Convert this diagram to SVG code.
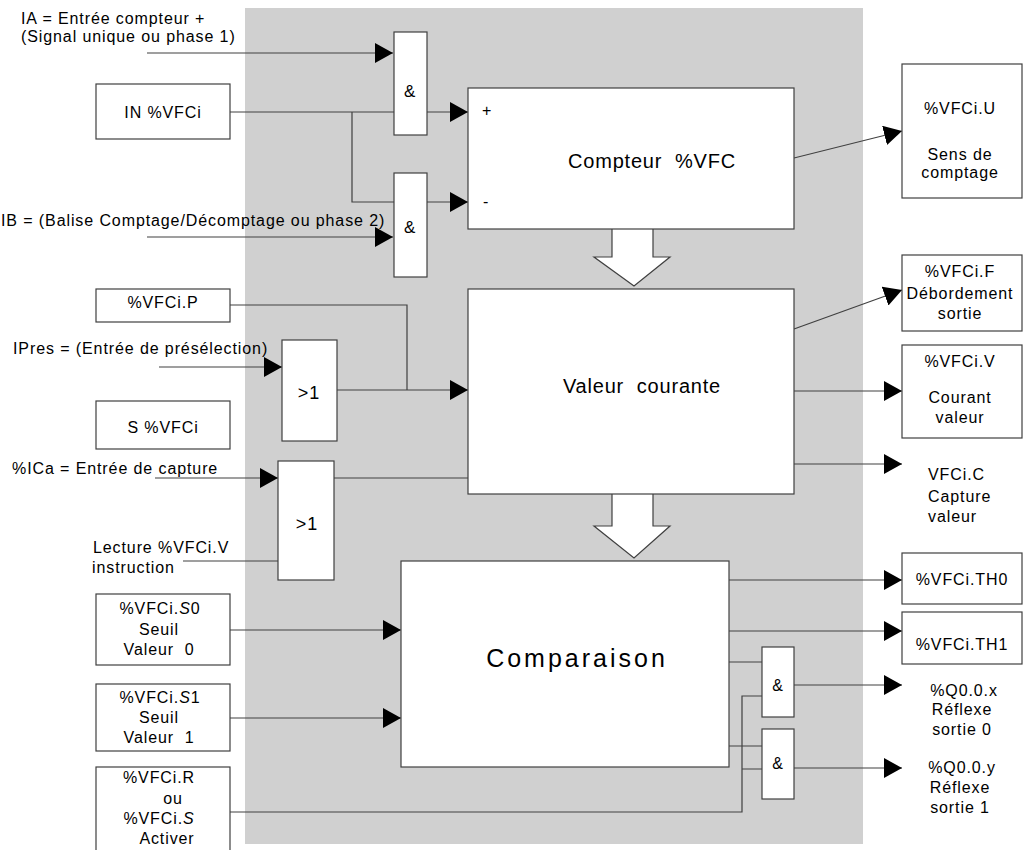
<svg xmlns="http://www.w3.org/2000/svg" width="1031" height="850" viewBox="0 0 1031 850">
<style>
text{font-family:"Liberation Sans",Arial,Helvetica,sans-serif;fill:#000;white-space:pre}
.t{font-size:16px;letter-spacing:0.9px}
.m{text-anchor:middle}
.big{font-size:20px;letter-spacing:0.8px;text-anchor:middle}
.huge{font-size:25px;letter-spacing:3px;text-anchor:middle}
.box{fill:#fff;stroke:#404040;stroke-width:1.2}
.w{fill:none;stroke:#404040;stroke-width:1.2}
.arr{marker-end:url(#ah)}
.hollow{fill:#fff;stroke:#404040;stroke-width:1.2}
</style>
<defs>
<marker id="ah" markerUnits="userSpaceOnUse" markerWidth="18" markerHeight="20" refX="18" refY="10" orient="auto" viewBox="0 0 18 20">
<path d="M0,0 L18,10 L0,20 Z" fill="#000"/>
</marker>
</defs>
<rect id="bg" x="245" y="8" width="618" height="836" fill="#d0d0d0"/>

<g id="connectors">
<path class="w arr" d="M147,53 H393"/>
<path class="w" d="M230,112 H394 M352,112 V202 H394"/>
<path class="w arr" d="M427,112 H468"/>
<path class="w arr" d="M427,202 H468"/>
<path class="w arr" d="M147,237 H393"/>
<path class="w arr" d="M794,158 L902,131"/>
<path class="w arr" d="M794,329 L902,290"/>
<path class="w arr" d="M794,391 H902"/>
<path class="w arr" d="M794,464 H902"/>
<path class="w" d="M230,305 H407 V390"/>
<path class="w arr" d="M159,367 H282"/>
<path class="w arr" d="M337,390 H468"/>
<path class="w arr" d="M155,478 H278"/>
<path class="w" d="M334,478 H468"/>
<path class="w" d="M183,561 H278"/>
<path class="w arr" d="M230,630 H401"/>
<path class="w arr" d="M230,718 H401"/>
<path class="w arr" d="M729,580 H902"/>
<path class="w arr" d="M729,631 H902"/>
<path class="w" d="M729,662 H762 M729,746 H762"/>
<path class="w" d="M230,812 H742 V696 H762 M742,769 H762"/>
<path class="w arr" d="M794,685 H902"/>
<path class="w arr" d="M794,768 H902"/>
<path class="hollow" d="M612,229 V257 H594 L634,286 L670,257 H653 V229"/>
<path class="hollow" d="M612,494 V526 H594 L634,558 L670,526 H653 V494"/>
</g>

<g id="label-ia">
<text class="t" x="21" y="24">IA = Entrée compteur +</text>
<text class="t" x="21" y="42">(Signal unique ou phase 1)</text>
</g>
<g id="label-ib">
<text class="t" x="1" y="226">IB = (Balise Comptage/Décomptage ou phase 2)</text>
</g>
<g id="in-vfci">
<rect class="box" x="96" y="84" width="134" height="55"/>
<text class="t m" x="163" y="118">IN %VFCi</text>
</g>
<g id="and1">
<rect class="box" x="394" y="32" width="33" height="103"/>
<text class="t m" x="410" y="97" style="font-size:17px">&amp;</text>
</g>
<g id="and2">
<rect class="box" x="394" y="173" width="33" height="104"/>
<text class="t m" x="410" y="233" style="font-size:17px">&amp;</text>
</g>
<g id="compteur">
<rect class="box" x="468" y="88" width="326" height="141"/>
<text class="t" x="482" y="116">+</text>
<text class="t" x="483" y="207">-</text>
<text class="big" x="652" y="168">Compteur  %VFC</text>
</g>
<g id="vfci-p">
<rect class="box" x="96" y="289" width="134" height="33"/>
<text class="t m" x="163" y="308">%VFCi.P</text>
</g>
<g id="label-ipres">
<text class="t" x="13" y="354">IPres = (Entrée de présélection)</text>
</g>
<g id="or1">
<rect class="box" x="282" y="340" width="55" height="101"/>
<text class="t m" x="309" y="399" style="font-size:18px">&gt;1</text>
</g>
<g id="s-vfci">
<rect class="box" x="96" y="401" width="134" height="48"/>
<text class="t m" x="163" y="433">S %VFCi</text>
</g>
<g id="label-ica">
<text class="t" x="12" y="474">%ICa = Entrée de capture</text>
</g>
<g id="or2">
<rect class="box" x="278" y="461" width="56" height="119"/>
<text class="t m" x="307" y="530" style="font-size:18px">&gt;1</text>
</g>
<g id="label-lecture">
<text class="t" x="93" y="553">Lecture %VFCi.V</text>
<text class="t" x="92" y="573">instruction</text>
</g>
<g id="valeur">
<rect class="box" x="468" y="289" width="326" height="205"/>
<text class="big" x="642" y="393">Valeur  courante</text>
</g>
<g id="comparaison">
<rect class="box" x="401" y="561" width="328" height="206"/>
<text class="huge" x="577" y="667">Comparaison</text>
</g>
<g id="vfci-s0">
<rect class="box" x="96" y="594" width="134" height="71"/>
<text class="t m" x="160" y="614">%VFCi.<tspan font-style="italic">S</tspan>0</text>
<text class="t m" x="159" y="635">Seuil</text>
<text class="t m" x="159" y="655">Valeur  0</text>
</g>
<g id="vfci-s1">
<rect class="box" x="96" y="684" width="134" height="67"/>
<text class="t m" x="160" y="703">%VFCi.<tspan font-style="italic">S</tspan>1</text>
<text class="t m" x="159" y="723">Seuil</text>
<text class="t m" x="159" y="743">Valeur  1</text>
</g>
<g id="vfci-r">
<rect class="box" x="96" y="767" width="134" height="100"/>
<text class="t m" x="159" y="783">%VFCi.R</text>
<text class="t m" x="173" y="804">ou</text>
<text class="t m" x="159" y="824">%VFCi.<tspan font-style="italic">S</tspan></text>
<text class="t m" x="167" y="844">Activer</text>
</g>
<g id="and3">
<rect class="box" x="762" y="647" width="32" height="70"/>
<text class="t m" x="778" y="691">&amp;</text>
</g>
<g id="and4">
<rect class="box" x="762" y="729" width="32" height="70"/>
<text class="t m" x="778" y="769">&amp;</text>
</g>
<g id="vfci-u">
<rect class="box" x="902" y="64" width="120" height="134"/>
<text class="t m" x="960" y="114">%VFCi.U</text>
<text class="t m" x="960" y="160">Sens de</text>
<text class="t m" x="960" y="178">comptage</text>
</g>
<g id="vfci-f">
<rect class="box" x="902" y="255" width="120" height="76"/>
<text class="t m" x="960" y="277">%VFCi.F</text>
<text class="t m" x="960" y="299">Débordement</text>
<text class="t m" x="960" y="319">sortie</text>
</g>
<g id="vfci-v">
<rect class="box" x="902" y="345" width="120" height="93"/>
<text class="t m" x="960" y="367">%VFCi.V</text>
<text class="t m" x="960" y="403">Courant</text>
<text class="t m" x="960" y="423">valeur</text>
</g>
<g id="vfci-c">
<text class="t" x="928" y="480">VFCi.C</text>
<text class="t" x="928" y="502">Capture</text>
<text class="t" x="928" y="522">valeur</text>
</g>
<g id="vfci-th0">
<rect class="box" x="902" y="553" width="120" height="51"/>
<text class="t m" x="962" y="585">%VFCi.TH0</text>
</g>
<g id="vfci-th1">
<rect class="box" x="902" y="612" width="120" height="52"/>
<text class="t m" x="962" y="650">%VFCi.TH1</text>
</g>
<g id="q0x">
<text class="t m" x="964" y="696">%Q0.0.x</text>
<text class="t m" x="962" y="715">Réflexe</text>
<text class="t m" x="962" y="735">sortie 0</text>
</g>
<g id="q0y">
<text class="t m" x="962" y="773">%Q0.0.y</text>
<text class="t m" x="960" y="793">Réflexe</text>
<text class="t m" x="960" y="813">sortie 1</text>
</g>
</svg>
